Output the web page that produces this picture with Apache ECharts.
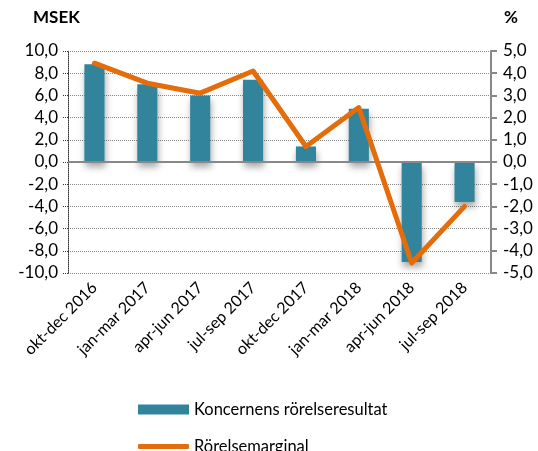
<!DOCTYPE html>
<html><head><meta charset="utf-8">
<script src="https://cdn.jsdelivr.net/npm/echarts@6/dist/echarts.min.js"></script>
<style>html,body{margin:0;padding:0;background:#fff}#c{width:538px;height:451px}</style>
</head><body><div id="c"></div>
<script>
const categories = ['okt-dec 2016','jan-mar 2017','apr-jun 2017','jul-sep 2017','okt-dec 2017','jan-mar 2018','apr-jun 2018','jul-sep 2018'];
const rorelseresultat = [8.8, 7.0, 6.0, 7.4, 1.4, 4.8, -9.0, -3.6];
const rorelsemarginal = [4.45, 3.55, 3.1, 4.1, 0.7, 2.45, -4.55, -2.0];
const leftTitle = 'MSEK';
const rightTitle = '%';
const FONT = 'Lato, "Open Sans", sans-serif';
const fmt = v => v.toFixed(1).replace('.', ',');
const chart = echarts.init(document.getElementById('c'), null, {renderer:'canvas'});
chart.setOption({
  animation:false,
  textStyle:{fontFamily:FONT},
  grid:{left:68,right:47,top:51,bottom:178,containLabel:false},
  graphic:[
    {type:'text',left:33,top:9,style:{text:leftTitle,font:'bold 17px '+FONT,fill:'#000'}},
    {type:'text',left:504,top:9,style:{text:rightTitle,font:'bold 17px '+FONT,fill:'#000'}}
  ],
  legend:[
    {left:133,top:396,itemWidth:51,itemHeight:10,itemGap:6,
     textStyle:{fontFamily:FONT,fontSize:16.5,color:'#000'},
     data:[{name:'Koncernens rörelseresultat',icon:'rect'}]},
    {left:133,top:433,itemWidth:51,itemHeight:5,itemGap:6,
     textStyle:{fontFamily:FONT,fontSize:16.5,color:'#000'},
     data:[{name:'Rörelsemarginal',icon:'roundRect',itemStyle:{color:'#E46C0A'}}]}
  ],
  xAxis:{
    type:'category',data:categories,
    axisLine:{show:false,onZero:false},axisTick:{show:false},
    axisLabel:{rotate:45,fontSize:16,color:'#000',margin:12,fontFamily:FONT,interval:0}
  },
  yAxis:[
    {type:'value',min:-10,max:10,interval:2,position:'left',
     axisLine:{show:true,lineStyle:{color:'#333',type:'dotted',width:1}},
     axisTick:{show:true,length:5,lineStyle:{color:'#333',type:'dotted'}},
     splitLine:{show:true,lineStyle:{color:'#888',type:'dotted',width:1}},
     axisLabel:{formatter:fmt,fontSize:17,color:'#000',margin:10,fontFamily:FONT}},
    {type:'value',min:-5,max:5,interval:1,position:'right',
     axisLine:{show:true,lineStyle:{color:'#888',width:2}},
     axisTick:{show:true,length:6,lineStyle:{color:'#888',width:2}},
     splitLine:{show:false},
     axisLabel:{formatter:fmt,fontSize:17,color:'#000',margin:12,fontFamily:FONT}}
  ],
  series:[
    {name:'Koncernens rörelseresultat',type:'bar',data:rorelseresultat,barWidth:'38%',
     itemStyle:{color:'#31849B',shadowBlur:7,shadowOffsetY:5,shadowOffsetX:1,shadowColor:'rgba(0,0,0,0.35)'},
     markLine:{silent:true,symbol:'none',label:{show:false},lineStyle:{color:'#888',type:'solid',width:2},data:[{yAxis:0}]}},
    {name:'Rörelsemarginal',type:'line',yAxisIndex:1,data:rorelsemarginal,symbol:'none',
     lineStyle:{color:'#E46C0A',width:5,cap:'round',join:'round'},itemStyle:{color:'#E46C0A'},z:5}
  ]
});
</script></body></html>
